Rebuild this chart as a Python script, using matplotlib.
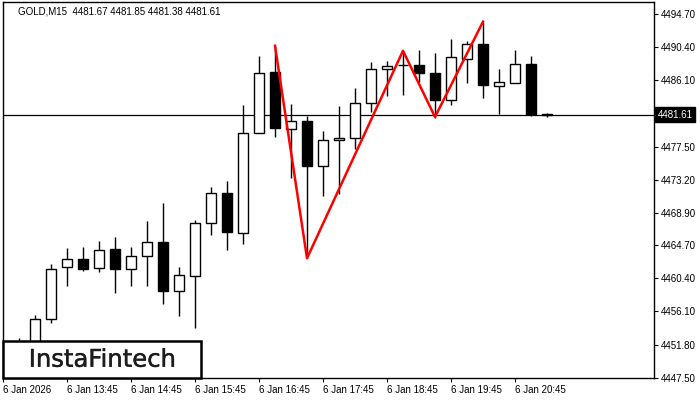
import matplotlib
matplotlib.use("Agg")
import matplotlib.pyplot as plt
from matplotlib.patches import Rectangle
import matplotlib.transforms as mtransforms
import matplotlib.patheffects as pe

# ---- data (GOLD M15, candles indexed from 6 Jan 12:45) ----
candle_idx = list(range(1, 35))
opens = [4450.6, 4451.4, 4455.1, 4461.9, 4462.9, 4461.8, 4464.2, 4461.6, 4463.3, 4465.1,
         4458.7, 4460.7, 4467.6, 4471.5, 4466.3, 4479.2, 4487.2, 4479.8, 4480.8, 4475.0,
         4478.3, 4478.6, 4483.2, 4487.6, 4488.1, 4488.1, 4487.0, 4483.6, 4488.9, 4490.8,
         4485.4, 4485.8, 4488.2, 4481.67]
highs = [4452.7, 4455.6, 4462.2, 4464.3, 4464.4, 4465.3, 4465.8, 4464.4, 4467.8, 4470.2,
         4461.9, 4468.0, 4472.2, 4473.0, 4482.9, 4489.2, 4490.6, 4483.0, 4481.4, 4479.5,
         4482.7, 4485.1, 4488.5, 4488.6, 4489.9, 4490.0, 4489.6, 4491.5, 4491.2, 4493.7,
         4487.6, 4490.0, 4489.2, 4481.85]
lows = [4449.8, 4450.9, 4454.6, 4459.4, 4461.4, 4461.2, 4458.5, 4459.4, 4459.4, 4457.0,
        4455.5, 4453.9, 4466.0, 4464.1, 4464.9, 4479.2, 4478.7, 4473.4, 4463.0, 4471.1,
        4471.3, 4477.2, 4482.0, 4484.0, 4484.2, 4485.9, 4481.2, 4482.9, 4485.8, 4483.8,
        4481.7, 4485.8, 4481.5, 4481.38]
closes = [4451.4, 4455.1, 4461.6, 4462.9, 4461.6, 4464.1, 4461.6, 4463.3, 4465.1, 4458.7,
          4460.8, 4467.6, 4471.5, 4466.4, 4479.2, 4487.0, 4479.9, 4480.8, 4475.0, 4478.3,
          4478.6, 4483.2, 4487.6, 4488.0, 4488.1, 4487.0, 4483.6, 4489.1, 4490.8, 4485.5,
          4485.9, 4488.2, 4481.7, 4481.61]

# pattern (red) line
pattern_idx = [17, 19, 25, 27, 30]
pattern_price = [4490.58, 4463.0, 4489.93, 4481.34, 4493.7]

current_price = 4481.61
title = "GOLD,M15  4481.67 4481.85 4481.38 4481.61"

ytick_vals = [4494.70, 4490.40, 4486.10, 4477.50, 4473.20, 4468.90,
              4464.70, 4460.40, 4456.10, 4451.80, 4447.50]
xtick_idx = [0, 4, 8, 12, 16, 20, 24, 28, 32]
xtick_labels = ["6 Jan 2026", "6 Jan 13:45", "6 Jan 14:45", "6 Jan 15:45", "6 Jan 16:45",
                "6 Jan 17:45", "6 Jan 18:45", "6 Jan 19:45", "6 Jan 20:45"]

FONT = "Liberation Sans"

fig = plt.figure(figsize=(7, 4), dpi=100)
fig.patch.set_facecolor("white")
ax = fig.add_axes([3/700, 22/400, 651/700, 375.7/400])
ax.set_facecolor("white")

# wicks
ax.vlines(candle_idx, lows, highs, colors="black", linewidth=1.0, zorder=2)
# bodies
bottoms = [min(o, c) for o, c in zip(opens, closes)]
heights = [abs(c - o) for o, c in zip(opens, closes)]
fcs = ["white" if c >= o else "black" for o, c in zip(opens, closes)]
ax.bar(candle_idx, heights, bottom=bottoms, width=0.6, color=fcs,
       edgecolor="black", linewidth=1.0, zorder=3)

# current price line
ax.axhline(current_price, color="black", linewidth=0.9, zorder=1)

# pattern line
ax.plot(pattern_idx, pattern_price, color="#ff0000", linewidth=1.8, zorder=4)

ax.set_xlim(0, 651/16)
ax.set_ylim(4447.46, 4496.22)

for s in ax.spines.values():
    s.set_color("black")
    s.set_linewidth(1.0)

ax.yaxis.tick_right()
ax.set_yticks(ytick_vals)
ax.set_yticklabels([f"{v:.2f}" for v in ytick_vals], fontsize=7, family=FONT)
ax.tick_params(axis="y", direction="out", length=3, width=0.8, pad=2, colors="black")

ax.set_xticks(xtick_idx)
ax.set_xticklabels(xtick_labels, fontsize=7, family=FONT, ha="left")
ax.tick_params(axis="x", direction="out", length=3, width=0.8, pad=2, colors="black")

# current price label
trans = mtransforms.blended_transform_factory(ax.transAxes, ax.transData)
ax.text(1.006, current_price, f"{current_price:.2f}", transform=trans, ha="left", va="center",
        fontsize=7, family=FONT, color="white",
        bbox=dict(boxstyle="square,pad=0.25", fc="black", ec="black"), clip_on=False, zorder=6)

# title
ax.text(15/651, 1 - 9/375.7, title, transform=ax.transAxes, ha="left", va="center",
        fontsize=7, family=FONT, color="black")

# logo box
ax.add_patch(Rectangle((0, 0), 198/651, 37.3/375.7, transform=ax.transAxes,
                       facecolor="white", edgecolor="black", linewidth=1.8, zorder=8,
                       clip_on=False))
ax.text(99.2/651, 11.3/375.7, "InstaFintech", transform=ax.transAxes, ha="center",
        va="baseline", fontsize=17.5, family="DejaVu Sans", color="#1c1c1c", zorder=9,
        path_effects=[pe.withStroke(linewidth=0.3, foreground="#1c1c1c")])

fig.savefig("out.png", dpi=100, facecolor="white")
